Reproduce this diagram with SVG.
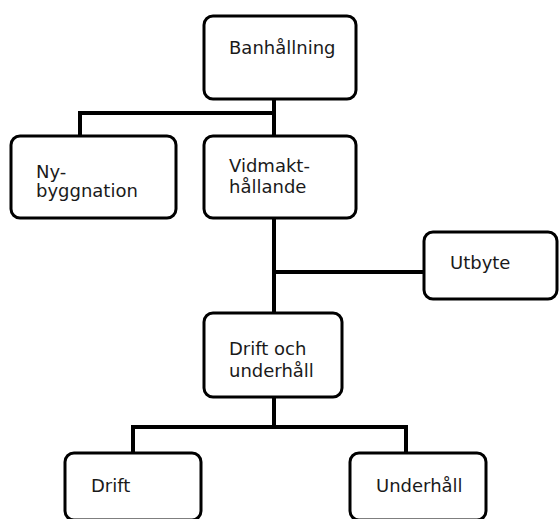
<svg xmlns="http://www.w3.org/2000/svg" width="559" height="519" viewBox="0 0 559 519">
<style>
.box{fill:#fff;stroke:#000;stroke-width:3}
.ln{stroke:#000;stroke-width:4;fill:none;stroke-linecap:square}
text{font-family:"DejaVu Sans",Verdana,sans-serif;font-size:18px;fill:#1a1a1a}
</style>
<rect width="559" height="519" fill="#fff"/>
<g id="connectors">
<path class="ln" d="M274 99 V136 M274 218 V313 M274 113 H80 V136 M274 272 H424 M274 397 V427 M133 453 V427 H406 V453"/>
</g>
<g id="banhallning"><rect class="box" x="204" y="16" width="152" height="83" rx="9"/><text x="229" y="54">Banhållning</text></g>
<g id="nybyggnation"><rect class="box" x="11" y="136" width="165" height="82" rx="9"/><text x="36" y="178">Ny-</text><text x="36" y="197">byggnation</text></g>
<g id="vidmakthallande"><rect class="box" x="204" y="136" width="152" height="82" rx="9"/><text x="229" y="172">Vidmakt-</text><text x="229" y="193">hållande</text></g>
<g id="utbyte"><rect class="box" x="424" y="232" width="133" height="67" rx="9"/><text x="450" y="269">Utbyte</text></g>
<g id="driftunderhall"><rect class="box" x="204" y="313" width="138" height="84" rx="9"/><text x="229" y="355">Drift och</text><text x="229" y="377">underhåll</text></g>
<g id="drift"><rect class="box" x="65" y="453" width="136" height="67" rx="9"/><text x="91" y="492">Drift</text></g>
<g id="underhall"><rect class="box" x="350" y="453" width="136" height="67" rx="9"/><text x="376" y="492">Underhåll</text></g>
</svg>
